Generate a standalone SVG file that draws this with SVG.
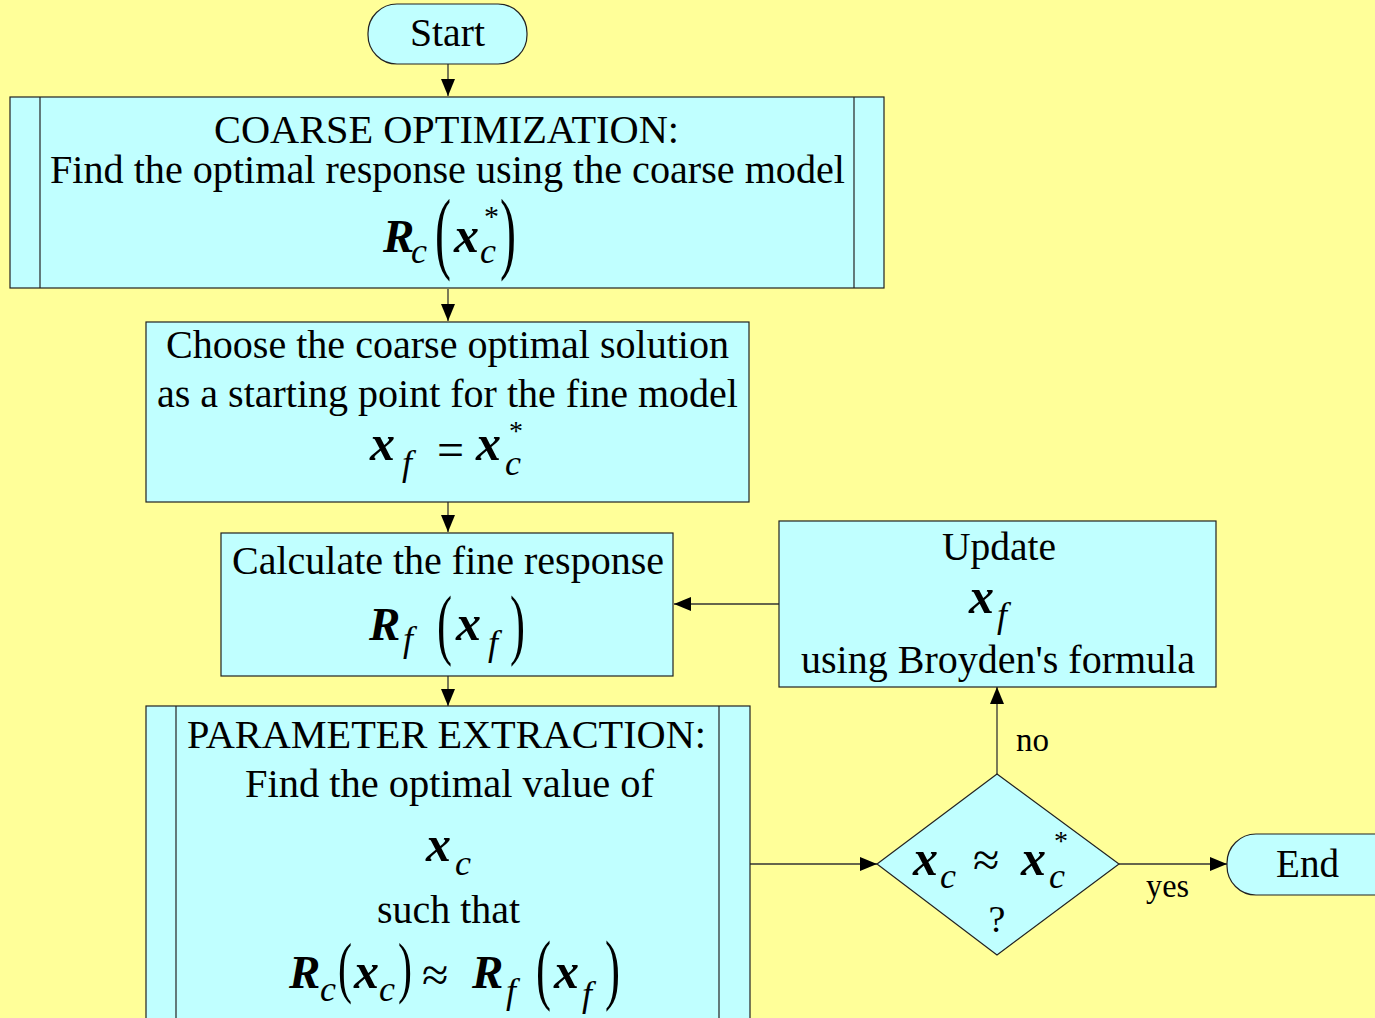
<svg xmlns="http://www.w3.org/2000/svg" width="1375" height="1018" viewBox="0 0 1375 1018">
<style>
.box{fill:#C0FFFF;stroke:#222;stroke-width:1.2}
.inner{stroke:#222;stroke-width:1.2;fill:none}
.t{font-family:"Liberation Serif","Times New Roman",serif;font-size:40px;fill:#000}
.lbl{font-family:"Liberation Serif","Times New Roman",serif;font-size:33px;fill:#000}
.m{font-family:"Liberation Serif","Times New Roman",serif;fill:#000}
.b{font-size:50px;font-weight:bold;font-style:italic}
.R{font-size:47px;font-weight:bold;font-style:italic}
.s{font-size:36px;font-style:italic;font-weight:normal}
.con{stroke:#333;stroke-width:1.3;fill:none;marker-end:url(#ah)}
</style>
<defs>
<marker id="ah" viewBox="0 0 17 14" refX="17" refY="7" markerWidth="17" markerHeight="14" markerUnits="userSpaceOnUse" orient="auto">
<path d="M0,0 L17,7 L0,14 z" fill="#000"/>
</marker>
</defs>
<rect x="0" y="0" width="1375" height="1018" fill="#FFFF99"/>

<g id="connectors">
<line class="con" x1="448" y1="64" x2="448" y2="96"/>
<line class="con" x1="448" y1="289" x2="448" y2="321"/>
<line class="con" x1="448" y1="502" x2="448" y2="532"/>
<line class="con" x1="448" y1="676" x2="448" y2="706"/>
<line class="con" x1="779" y1="604" x2="674" y2="604"/>
<line class="con" x1="997" y1="774" x2="997" y2="687"/>
<line class="con" x1="750" y1="864" x2="877" y2="864"/>
<line class="con" x1="1119" y1="864" x2="1227" y2="864"/>
<text class="lbl" x="1016" y="751" textLength="33" lengthAdjust="spacingAndGlyphs">no</text>
<text class="lbl" x="1146" y="897" textLength="43" lengthAdjust="spacingAndGlyphs">yes</text>
</g>

<g id="start">
<rect class="box" x="368" y="4" width="159" height="60" rx="29" ry="29"/>
<text class="t" x="410" y="46" textLength="75" lengthAdjust="spacingAndGlyphs">Start</text>
</g>

<g id="coarse">
<rect class="box" x="10" y="97" width="874" height="191"/>
<line class="inner" x1="40" y1="97" x2="40" y2="288"/>
<line class="inner" x1="854" y1="97" x2="854" y2="288"/>
<text class="t" x="214" y="143" textLength="465" lengthAdjust="spacingAndGlyphs">COARSE OPTIMIZATION:</text>
<text class="t" x="50" y="183" textLength="795" lengthAdjust="spacingAndGlyphs">Find the optimal response using the coarse model</text>
<text class="m"><tspan class="R" x="383" y="252">R</tspan><tspan class="s" x="411" y="263">c</tspan><tspan x="435" y="262" font-size="90" textLength="16" lengthAdjust="spacingAndGlyphs">(</tspan><tspan class="b" x="454" y="252">x</tspan><tspan class="s" x="480" y="263">c</tspan><tspan x="484" y="226" font-size="30">*</tspan><tspan x="500" y="262" font-size="90" textLength="16" lengthAdjust="spacingAndGlyphs">)</tspan></text>
</g>

<g id="choose">
<rect class="box" x="146" y="322" width="603" height="180"/>
<text class="t" x="166" y="358" textLength="563" lengthAdjust="spacingAndGlyphs">Choose the coarse optimal solution</text>
<text class="t" x="157" y="407" textLength="581" lengthAdjust="spacingAndGlyphs">as a starting point for the fine model</text>
<text class="m"><tspan class="b" x="370" y="460">x</tspan><tspan class="s" x="402" y="475">f</tspan><tspan x="437" y="466" font-size="48">=</tspan><tspan class="b" x="476" y="460">x</tspan><tspan class="s" x="505" y="475">c</tspan><tspan x="509" y="440" font-size="28">*</tspan></text>
</g>

<g id="calculate">
<rect class="box" x="221" y="533" width="452" height="143"/>
<text class="t" x="232" y="574" textLength="432" lengthAdjust="spacingAndGlyphs">Calculate the fine response</text>
<text class="m"><tspan class="R" x="369" y="640">R</tspan><tspan class="s" x="403" y="651">f</tspan><tspan x="437" y="650" font-size="79" textLength="15" lengthAdjust="spacingAndGlyphs">(</tspan><tspan class="b" x="456" y="640">x</tspan><tspan class="s" x="488" y="655">f</tspan><tspan x="510" y="650" font-size="79" textLength="15" lengthAdjust="spacingAndGlyphs">)</tspan></text>
</g>

<g id="extraction">
<rect class="box" x="146" y="706" width="604" height="330"/>
<line class="inner" x1="176" y1="706" x2="176" y2="1036"/>
<line class="inner" x1="719" y1="706" x2="719" y2="1036"/>
<text class="t" x="187" y="748" textLength="519" lengthAdjust="spacingAndGlyphs">PARAMETER EXTRACTION:</text>
<text class="t" x="245" y="797" textLength="409" lengthAdjust="spacingAndGlyphs">Find the optimal value of</text>
<text class="m"><tspan class="b" x="426" y="861">x</tspan><tspan class="s" x="455" y="875">c</tspan></text>
<text class="t" x="377" y="923" textLength="143" lengthAdjust="spacingAndGlyphs">such that</text>
<text class="m"><tspan class="R" x="289" y="988">R</tspan><tspan class="s" x="320" y="1001">c</tspan><tspan x="338" y="990" font-size="68" textLength="14" lengthAdjust="spacingAndGlyphs">(</tspan><tspan class="b" x="354" y="988">x</tspan><tspan class="s" x="379" y="1001">c</tspan><tspan x="398" y="990" font-size="68" textLength="14" lengthAdjust="spacingAndGlyphs">)</tspan><tspan x="422" y="991" font-size="48">≈</tspan><tspan class="R" x="472" y="988">R</tspan><tspan class="s" x="506" y="1003">f</tspan><tspan x="536" y="995" font-size="79" textLength="15" lengthAdjust="spacingAndGlyphs">(</tspan><tspan class="b" x="554" y="988">x</tspan><tspan class="s" x="582" y="1006">f</tspan><tspan x="605" y="995" font-size="79" textLength="15" lengthAdjust="spacingAndGlyphs">)</tspan></text>
</g>

<g id="update">
<rect class="box" x="779" y="521" width="437" height="166"/>
<text class="t" x="942" y="560" textLength="114" lengthAdjust="spacingAndGlyphs">Update</text>
<text class="m"><tspan class="b" x="969" y="613">x</tspan><tspan class="s" x="997" y="627">f</tspan></text>
<text class="t" x="801" y="673" textLength="394" lengthAdjust="spacingAndGlyphs">using Broyden's formula</text>
</g>

<g id="decision">
<polygon class="box" points="997,774 1119,864 997,955 877,864"/>
<text class="m"><tspan class="b" x="913" y="875">x</tspan><tspan class="s" x="940" y="888">c</tspan><tspan x="973" y="876" font-size="48">≈</tspan><tspan class="b" x="1021" y="875">x</tspan><tspan class="s" x="1049" y="888">c</tspan><tspan x="1054" y="850" font-size="28">*</tspan></text>
<text class="m" x="997" y="932" font-size="38" text-anchor="middle">?</text>
</g>

<g id="end">
<rect class="box" x="1227" y="834" width="180" height="61" rx="29" ry="29"/>
<text class="t" x="1276" y="877" textLength="63" lengthAdjust="spacingAndGlyphs">End</text>
</g>
</svg>
